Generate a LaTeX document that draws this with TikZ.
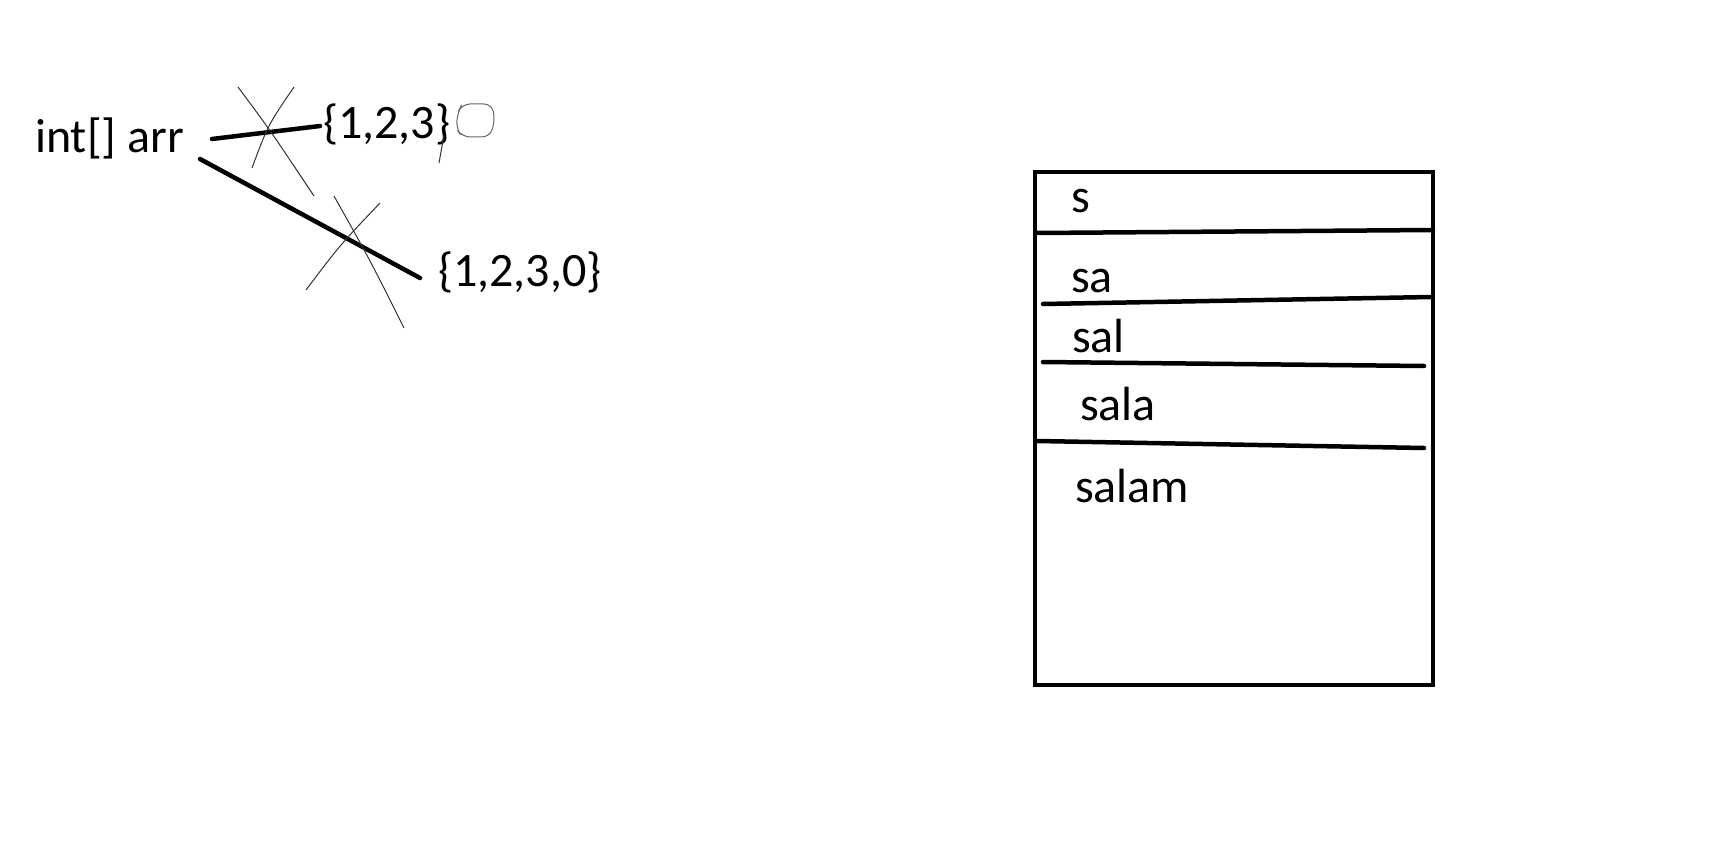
\documentclass[tikz,border=0pt]{standalone}
\usepackage{fontspec}
\setmainfont{Carlito}
\begin{document}
\begin{tikzpicture}[x=1pt,y=-1pt,
  txt/.style={font=\fontsize{48}{52}\selectfont, inner sep=0pt, anchor=base west},
  heavy/.style={line width=4.5pt, line cap=round},
  scratch/.style={line width=1pt, black!80},
  frame/.style={line width=4.5pt}]
\useasboundingbox (0,0) rectangle (1727,845);
% left part
\node[txt] (arr) at (35,153) {int[] arr};
\node[txt] (v1) at (323,139) {\{1,2,3\}};
\node[txt] (v2) at (438,287) {\{1,2,3,0\}};
\coordinate (l1a) at (212,139);
\coordinate (l1b) at (320,126);
\coordinate (l2a) at (200,159);
\coordinate (l2b) at (420,278);
\draw[heavy] (l1a) -- (l1b);
\draw[heavy] (l2a) -- (l2b);
% scratch crosses
\coordinate (c1a) at (238,87);  \coordinate (c1b) at (314,196);
\coordinate (c1c) at (294,87);  \coordinate (c1d) at (252,168);
\coordinate (c2a) at (334,196); \coordinate (c2b) at (404,328);
\coordinate (c2c) at (380,203); \coordinate (c2d) at (306,290);
\draw[scratch] (c1a) .. controls (270,130) .. (c1b);
\draw[scratch] (c1c) .. controls (268,125) .. (c1d);
\draw[scratch] (c2a) .. controls (370,260) .. (c2b);
\draw[scratch] (c2c) .. controls (340,245) .. (c2d);
% small circle and tick
\coordinate (t1) at (444,135); \coordinate (t2) at (439,163);
\draw[scratch] (t1) -- (t2);
\draw[line width=1pt, black!60, rounded corners=8pt]
  (462,104) -- (492,104) -- (495,120) -- (490,137) -- (462,137) -- (456,128) -- (458,112) -- cycle;
% right box
\coordinate (bTL) at (1035,172);
\coordinate (bBR) at (1433,685);
\draw[frame] (bTL) rectangle (bBR);
\coordinate (d1a) at (1037,233); \coordinate (d1b) at (1433,230);
\coordinate (d2a) at (1043,304); \coordinate (d2b) at (1431,297);
\coordinate (d3a) at (1043,362); \coordinate (d3b) at (1424,366);
\coordinate (d4a) at (1037,441); \coordinate (d4b) at (1424,448);
\draw[heavy] (d1a) -- (d1b);
\draw[heavy] (d2a) -- (d2b);
\draw[heavy] (d3a) -- (d3b);
\draw[heavy] (d4a) -- (d4b);
\node[txt] (s1) at (1071,213) {s};
\node[txt] (s2) at (1071,292) {sa};
\node[txt] (s3) at (1072,352) {sal};
\node[txt] (s4) at (1080,420) {sala};
\node[txt] (s5) at (1075,502) {salam};
\end{tikzpicture}
\end{document}
